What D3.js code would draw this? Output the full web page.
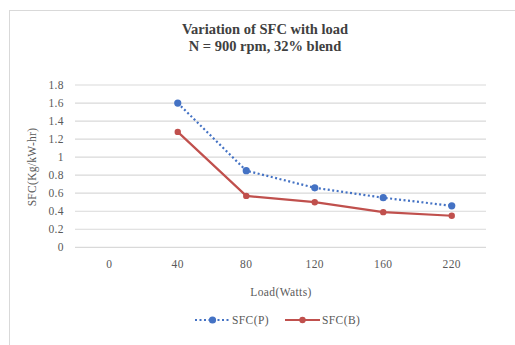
<!DOCTYPE html>
<html><head><meta charset="utf-8">
<script src="https://cdn.jsdelivr.net/npm/d3@7"></script>
<style>body{margin:0;background:#fff}svg{display:block}</style>
</head><body><svg id="c" width="515" height="345"></svg>
<script>
const categories = ["0","40","80","120","160","220"];
const sfcP = [null,1.6,0.85,0.66,0.55,0.46];
const sfcB = [null,1.28,0.57,0.50,0.39,0.35];
const yTicks = [0,0.2,0.4,0.6,0.8,1,1.2,1.4,1.6,1.8];
const titleLines = ["Variation of SFC with load","N = 900 rpm, 32% blend"];

const svg = d3.select("#c");
const font = "'Liberation Serif','Times New Roman',serif";
const fs = 11.5;
svg.append("rect").attr("x",9.5).attr("y",10.5).attr("width",520).attr("height",340)
  .attr("fill","#fff").attr("stroke","#d9d9d9");

const x = d3.scaleBand().domain(categories).range([75,486]);
const y = d3.scaleLinear().domain([0,1.8]).range([247.3,85]);

svg.append("g").selectAll("line").data(yTicks).join("line")
  .attr("x1",75).attr("x2",486).attr("y1",d=>y(d)).attr("y2",d=>y(d))
  .attr("stroke","#d9d9d9").attr("stroke-width",1.2);

const yAxis = svg.append("g").attr("transform","translate(75,0)")
  .call(d3.axisLeft(y).tickValues(yTicks).tickSize(0).tickPadding(11).tickFormat(d3.format("~g")));
yAxis.select(".domain").remove();
yAxis.selectAll("text").attr("font-family",font).attr("font-size",fs).attr("letter-spacing",0.4).attr("fill","#595959");

const xAxis = svg.append("g").attr("transform","translate(0,257)")
  .call(d3.axisBottom(x).tickSize(0).tickPadding(3));
xAxis.select(".domain").remove();
xAxis.selectAll("text").attr("font-family",font).attr("font-size",fs).attr("letter-spacing",0.4).attr("fill","#595959");

svg.append("text").attr("x",265).attr("y",34).attr("text-anchor","middle")
  .attr("font-family",font).attr("font-size",14.5).attr("font-weight","bold").attr("fill","#404040")
  .selectAll("tspan").data(titleLines).join("tspan").attr("x",265).attr("dy",(d,i)=>i?16.5:0).text(d=>d);

svg.append("text").attr("x",281).attr("y",296).attr("text-anchor","middle")
  .attr("font-family",font).attr("font-size",fs).attr("letter-spacing",0.4).attr("fill","#595959").text("Load(Watts)");
svg.append("text").attr("transform","translate(36,167) rotate(-90)").attr("text-anchor","middle")
  .attr("font-family",font).attr("font-size",fs).attr("letter-spacing",0.3).attr("fill","#595959").text("SFC(Kg/kW-hr)");

const cx = c => x(c)+x.bandwidth()/2;
const series = [
  {name:"SFC(P)",vals:sfcP,color:"#4472C4",dash:"2,2.5",r:3.6,lx:195},
  {name:"SFC(B)",vals:sfcB,color:"#C0504D",dash:null,r:3.2,lx:285}
];
const line = d3.line().defined(d=>d.v!=null).x(d=>cx(d.c)).y(d=>y(d.v));
series.forEach(s=>{
  const data = categories.map((c,i)=>({c,v:s.vals[i]}));
  svg.append("path").datum(data).attr("d",line).attr("fill","none")
    .attr("stroke",s.color).attr("stroke-width",2.2).attr("stroke-dasharray",s.dash);
  svg.append("g").selectAll("circle").data(data.filter(d=>d.v!=null)).join("circle")
    .attr("cx",d=>cx(d.c)).attr("cy",d=>y(d.v)).attr("r",s.r).attr("fill",s.color);
  const g = svg.append("g");
  g.append("line").attr("x1",s.lx).attr("x2",s.lx+35).attr("y1",320).attr("y2",320)
    .attr("stroke",s.color).attr("stroke-width",2.2).attr("stroke-dasharray",s.dash);
  g.append("circle").attr("cx",s.lx+17.5).attr("cy",320).attr("r",s.r).attr("fill",s.color);
  g.append("text").attr("x",s.lx+37).attr("y",324).attr("font-family",font).attr("font-size",fs)
    .attr("letter-spacing",0.4).attr("fill","#595959").text(s.name);
});
</script></body></html>
